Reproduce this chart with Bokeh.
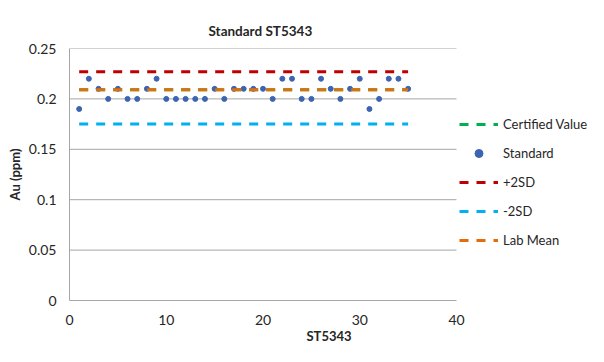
from bokeh.plotting import figure
from bokeh.models import Range1d, FixedTicker, CustomJSTickFormatter, Legend, LegendItem
from bokeh.embed import file_html
from bokeh.resources import INLINE

# ---- data ----
sample_no = list(range(1, 36))
standard = [0.19, 0.22, 0.21, 0.20, 0.21, 0.20, 0.20, 0.21, 0.22, 0.20,
            0.20, 0.20, 0.20, 0.20, 0.21, 0.20, 0.21, 0.21, 0.21, 0.21,
            0.20, 0.22, 0.22, 0.20, 0.20, 0.22, 0.21, 0.20, 0.21, 0.22,
            0.19, 0.20, 0.22, 0.22, 0.21]
certified_value = 0.209
plus_2sd = 0.227
minus_2sd = 0.175
lab_mean = 0.209
x_min, x_max = 0, 40
x_ticks = [0, 10, 20, 30, 40]
y_ticks = [0, 0.05, 0.1, 0.15, 0.2, 0.25]

FONT = "Lato"
TXT = "#262626"
GRID = "#a6a6a6"
PT = "#3c64b0"

W, H = 588, 346
LEFT, TOP, BOTTOM = 69, 48, 46
PLOT_PX = 387                     # pixel width of the 0..40 data area
frame_px = W - LEFT
x_end = x_max * frame_px / PLOT_PX  # extra room on the right for the legend

p = figure(width=W, height=H, output_backend="svg", toolbar_location=None,
           x_range=Range1d(x_min, x_end), y_range=Range1d(0, 0.25),
           min_border_left=LEFT, min_border_right=0, min_border_top=TOP,
           min_border_bottom=BOTTOM)
p.outline_line_color = None
p.background_fill_color = "white"
p.border_fill_color = "white"

p.title.text = "Standard ST5343"
p.title.text_font = FONT
p.title.text_font_size = "13.5px"
p.title.text_font_style = "bold"
p.title.text_color = TXT
p.title.align = "left"
p.title.offset = 139
p.title.standoff = 19

p.xgrid.visible = False
p.ygrid.visible = False
p.segment(x0=[x_min] * (len(y_ticks) - 1), x1=[x_max] * (len(y_ticks) - 1),
          y0=y_ticks[1:], y1=y_ticks[1:], line_color=GRID, line_width=1)

for ax in (p.xaxis[0], p.yaxis[0]):
    ax.axis_line_color = GRID
    ax.axis_line_width = 1
    ax.major_tick_line_color = None
    ax.minor_tick_line_color = None
    ax.major_tick_out = 0
    ax.major_tick_in = 0
    ax.minor_tick_out = 0
    ax.minor_tick_in = 0
    ax.major_label_text_font = FONT
    ax.major_label_text_font_size = "14px"
    ax.major_label_text_color = TXT
    ax.axis_label_text_font = FONT
    ax.axis_label_text_font_size = "13px"
    ax.axis_label_text_font_style = "bold"
    ax.axis_label_text_color = TXT

p.xaxis.bounds = (x_min, x_max)
p.xaxis.ticker = FixedTicker(ticks=x_ticks)
p.yaxis.ticker = FixedTicker(ticks=y_ticks)
p.yaxis.formatter = CustomJSTickFormatter(code="return String(Number(tick.toFixed(2)));")
p.xaxis.axis_label = "ST5343"
p.yaxis.axis_label = "Au (ppm)"
p.yaxis.major_label_standoff = 13
p.xaxis.major_label_standoff = 14
p.yaxis.axis_label_standoff = 3
p.xaxis.axis_label_standoff = 0

DASH = "9 8"
LW = 3
n = len(sample_no)
r_cert = p.line(sample_no, [certified_value] * n, line_color="#00b050",
                line_width=LW, line_dash=DASH)
r_std = p.scatter(sample_no, standard, size=5, fill_color=PT, line_color=PT)
r_p2 = p.line(sample_no, [plus_2sd] * n, line_color="#c00000",
              line_width=LW, line_dash=DASH)
r_m2 = p.line(sample_no, [minus_2sd] * n, line_color="#00b0f0",
              line_width=LW, line_dash=DASH)
r_mean = p.line(sample_no, [lab_mean] * n, line_color="#e46c0a",
                line_width=LW, line_dash=DASH)

legend = Legend(items=[
    LegendItem(label="Certified Value", renderers=[r_cert]),
    LegendItem(label="Standard", renderers=[r_std]),
    LegendItem(label="+2SD", renderers=[r_p2]),
    LegendItem(label="-2SD", renderers=[r_m2]),
    LegendItem(label="Lab Mean", renderers=[r_mean]),
], location=(390, 50))
legend.background_fill_alpha = 0
legend.border_line_color = None
legend.padding = 0
legend.margin = 0
legend.spacing = 9
legend.glyph_width = 39
legend.glyph_height = 20
legend.label_height = 20
legend.label_standoff = 5
legend.label_text_font = FONT
legend.label_text_font_size = "13px"
legend.label_text_color = TXT
p.add_layout(legend, "center")

open("out.html", "w").write(file_html(p, INLINE))
